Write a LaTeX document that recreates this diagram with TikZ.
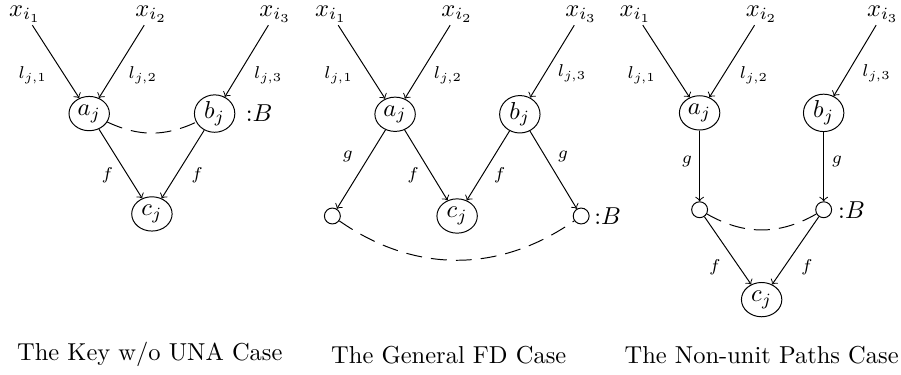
\documentclass[tikz,border=0pt]{standalone}
\usetikzlibrary{shapes.geometric}
\begin{document}
\begin{tikzpicture}[>=to,
  ent/.style={draw, ellipse, inner sep=0.5pt, minimum width=16.5pt, minimum height=14pt},
  pnt/.style={draw, circle, inner sep=0pt, minimum size=6.5pt},
  src/.style={inner sep=1pt},
  lbl/.style={font=\scriptsize},
  eq/.style={dash pattern=on 6.5pt off 3.7pt}]
\useasboundingbox (0,0) rectangle (12.93,-5.38);

\node[src] (x11) at (0.36,-0.2) {$x_{i_1}$};
\node[src] (x12) at (2.17,-0.2) {$x_{i_2}$};
\node[src] (x13) at (3.95,-0.2) {$x_{i_3}$};
\node[ent] (a1) at (1.28,-1.63) {$a_j$};
\node[ent] (b1) at (3.08,-1.63) {$b_j$};
\node[ent] (c1) at (2.18,-3.07) {$c_j$};
\node (t1) at (3.72,-1.62) {:$B$};

\draw[->] (x11) -- (a1);
\draw[->] (x12) -- (a1);
\draw[->] (x13) -- (b1);
\draw[->] (a1) -- (c1);
\draw[->] (b1) -- (c1);
\draw[eq] (a1) to[bend right=25] (b1);

\node[lbl] (l11) at (0.47,-1.08) {$l_{j,1}$};
\node[lbl] (l12) at (2.05,-1.08) {$l_{j,2}$};
\node[lbl] (l13) at (3.85,-1.08) {$l_{j,3}$};
\node[lbl] (f11) at (1.54,-2.51) {$f$};
\node[lbl] (f12) at (2.83,-2.51) {$f$};
\node (n1) at (2.15,-5.09) {The Key w/o UNA Case};

\node[src] (x21) at (4.75,-0.2) {$x_{i_1}$};
\node[src] (x22) at (6.56,-0.2) {$x_{i_2}$};
\node[src] (x23) at (8.34,-0.2) {$x_{i_3}$};
\node[ent] (a2) at (5.67,-1.64) {$a_j$};
\node[ent] (b2) at (7.46,-1.64) {$b_j$};
\node[ent] (c2) at (6.56,-3.10) {$c_j$};
\node[pnt] (s21) at (4.77,-3.10) {};
\node[pnt] (s22) at (8.34,-3.10) {};
\node (t2) at (8.72,-3.10) {:$B$};

\draw[->] (x21) -- (a2);
\draw[->] (x22) -- (a2);
\draw[->] (x23) -- (b2);
\draw[->] (a2) -- (s21);
\draw[->] (a2) -- (c2);
\draw[->] (b2) -- (c2);
\draw[->] (b2) -- (s22);
\draw[eq] (s21) to[bend right=35] (s22);

\node[lbl] (l21) at (4.86,-1.08) {$l_{j,1}$};
\node[lbl] (l22) at (6.43,-1.08) {$l_{j,2}$};
\node[lbl] (l23) at (8.21,-1.05) {$l_{j,3}$};
\node[lbl] (g21) at (4.99,-2.25) {$g$};
\node[lbl] (f21) at (5.93,-2.51) {$f$};
\node[lbl] (f22) at (7.17,-2.51) {$f$};
\node[lbl] (g22) at (8.08,-2.25) {$g$};
\node (n2) at (6.44,-5.09) {The General FD Case};

\node[src] (x31) at (9.12,-0.2) {$x_{i_1}$};
\node[src] (x32) at (10.93,-0.2) {$x_{i_2}$};
\node[src] (x33) at (12.67,-0.2) {$x_{i_3}$};
\node[ent] (a3) at (10.04,-1.62) {$a_j$};
\node[ent] (b3) at (11.82,-1.62) {$b_j$};
\node[pnt] (s31) at (10.04,-3.01) {};
\node[pnt] (s32) at (11.82,-3.01) {};
\node (t3) at (12.22,-3.01) {:$B$};
\node[ent] (c3) at (10.93,-4.30) {$c_j$};

\draw[->] (x31) -- (a3);
\draw[->] (x32) -- (a3);
\draw[->] (x33) -- (b3);
\draw[->] (a3) -- (s31);
\draw[->] (b3) -- (s32);
\draw[->] (s31) -- (c3);
\draw[->] (s32) -- (c3);
\draw[eq] (s31) to[bend right=30] (s32);

\node[lbl] (l31) at (9.21,-1.08) {$l_{j,1}$};
\node[lbl] (l32) at (10.82,-1.08) {$l_{j,2}$};
\node[lbl] (l33) at (12.58,-1.05) {$l_{j,3}$};
\node[lbl] (g31) at (9.86,-2.32) {$g$};
\node[lbl] (g32) at (12.01,-2.32) {$g$};
\node[lbl] (f31) at (10.26,-3.83) {$f$};
\node[lbl] (f32) at (11.58,-3.83) {$f$};
\node (n3) at (10.93,-5.09) {The Non-unit Paths Case};
\end{tikzpicture}
\end{document}
